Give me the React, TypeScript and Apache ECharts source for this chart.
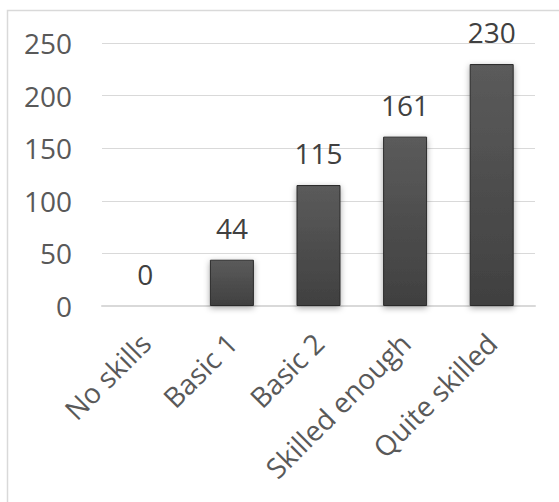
import React, { useEffect, useRef } from "react";
import * as echarts from "echarts";

// Skill levels and respondent counts
const categories: string[] = ["No skills", "Basic 1", "Basic 2", "Skilled enough", "Quite skilled"];
const counts: number[] = [0, 44, 115, 161, 230];

// Value axis range
const yMin = 0;
const yMax = 250;
const yStep = 50;

export default function App() {
  const ref = useRef<HTMLDivElement>(null);

  useEffect(() => {
    if (!ref.current) return;
    const chart = echarts.init(ref.current, null, { renderer: "svg" });
    const font = "'Open Sans', sans-serif";
    chart.setOption({
      animation: false,
      backgroundColor: "#ffffff",
      grid: { left: 102, right: 24, top: 43, bottom: 196 },
      graphic: [
        {
          type: "rect",
          shape: { x: 7.5, y: 10.5, width: 700, height: 700 },
          style: { fill: "none", stroke: "#d9d9d9", lineWidth: 1.5 },
          silent: true,
          z: -1,
        },
      ],
      xAxis: {
        type: "category",
        data: categories,
        axisLine: { show: true, lineStyle: { color: "#d9d9d9", width: 2 } },
        axisTick: { show: false },
        axisLabel: {
          rotate: 45,
          margin: 32,
          color: "#595959",
          fontSize: 28,
          fontFamily: font,
          interval: 0,
        },
      },
      yAxis: {
        type: "value",
        min: yMin,
        max: yMax,
        interval: yStep,
        axisLine: { show: false },
        axisTick: { show: false },
        splitLine: { lineStyle: { color: "#d9d9d9", width: 1 } },
        axisLabel: {
          margin: 30,
          color: "#595959",
          fontSize: 28,
          fontFamily: font,
        },
      },
      series: [
        {
          type: "bar",
          data: counts,
          barWidth: 44,
          itemStyle: {
            color: new echarts.graphic.LinearGradient(0, 0, 0, 1, [
              { offset: 0, color: "#5b5b5b" },
              { offset: 1, color: "#404040" },
            ]),
            borderColor: "#2b2b2b",
            borderWidth: 1,
            shadowBlur: 6,
            shadowColor: "rgba(0,0,0,0.35)",
            shadowOffsetY: 2,
          },
          label: {
            show: true,
            position: "top",
            distance: 18,
            color: "#404040",
            fontSize: 28,
            fontFamily: font,
          },
        },
      ],
    });
    return () => chart.dispose();
  }, []);

  return (
    <div
      ref={ref}
      style={{ position: "fixed", left: 0, top: 0, width: 559, height: 502, background: "#fff" }}
    />
  );
}
